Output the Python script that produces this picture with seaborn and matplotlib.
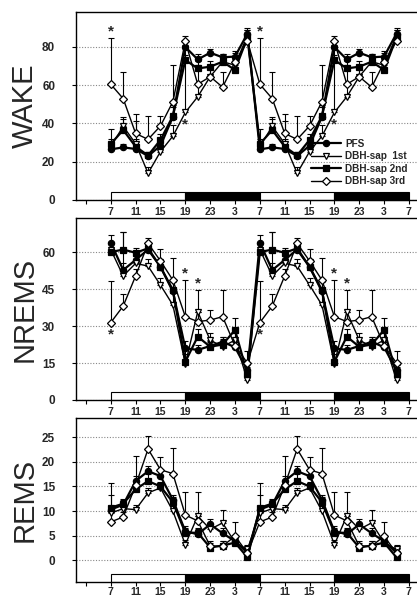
import numpy as np
import pandas as pd
import matplotlib
matplotlib.use("Agg")
import matplotlib.pyplot as plt
from matplotlib.patches import Rectangle
import seaborn as sns

# ---------------- data (one 24 h day, double plotted) ----------------
clock_labels = ["7", "9", "11", "13", "15", "17", "19", "21", "23", "1", "3", "5"]
hours = [0, 2, 4, 6, 8, 10, 12, 14, 16, 18, 20, 22]          # hours after 7:00
series_names = ["PFS", "DBH-sap  1st", "DBH-sap 2nd", "DBH-sap 3rd"]

wake_pfs = [26.5, 27.5, 26.7, 23.0, 28.4, 43.5, 80.0, 73.5, 77.0, 74.6, 75.0, 87.0]
wake_1st = [28.0, 38.5, 29.5, 14.0, 25.3, 33.4, 45.8, 54.0, 64.5, 72.3, 70.5, 86.0]
wake_2nd = [29.3, 36.6, 27.9, 23.3, 31.4, 43.9, 73.2, 68.8, 69.7, 72.3, 68.0, 85.0]
wake_3rd = [60.5, 53.0, 34.8, 31.7, 38.7, 51.4, 83.0, 60.5, 64.5, 59.0, 72.0, 83.0]
wake_pfs_err = [3, 2, 2, 2, 3, 5, 3, 3, 2, 2, 2, 3]
wake_1st_err = [4, 5, 12, 3, 4, 6, 30, 6, 4, 3, 3, 3]
wake_2nd_err = [8, 6, 4, 2, 3, 6, 8, 4, 3, 4, 5, 4]
wake_3rd_err = [24, 14, 10, 12, 5, 19, 3, 10, 4, 8, 6, 4]

nrem_pfs = [63.8, 52.7, 56.8, 61.0, 54.0, 44.0, 21.0, 20.3, 21.9, 23.6, 21.4, 12.0]
nrem_1st = [61.0, 50.3, 55.4, 54.3, 46.6, 38.5, 14.6, 35.8, 24.3, 21.6, 24.3, 8.0]
nrem_2nd = [60.0, 61.0, 59.7, 61.5, 54.0, 44.6, 15.5, 25.7, 21.6, 22.5, 28.4, 10.5]
nrem_3rd = [31.4, 38.1, 50.3, 63.5, 56.4, 48.6, 33.8, 31.8, 32.4, 33.8, 22.0, 15.0]
nrem_pfs_err = [3, 3, 2, 2, 3, 4, 3, 2, 2, 2, 2, 2]
nrem_1st_err = [3, 18, 3, 3, 3, 5, 4, 9, 3, 3, 3, 3]
nrem_2nd_err = [4, 7, 2, 2, 3, 4, 5, 3, 2, 3, 5, 3]
nrem_3rd_err = [17, 5, 3, 2, 5, 9, 15, 4, 4, 11, 6, 5]

rems_pfs = [10.3, 11.3, 16.1, 18.1, 17.1, 12.3, 5.9, 5.3, 7.3, 5.5, 3.9, 1.5]
rems_1st = [9.6, 10.5, 10.3, 13.7, 14.7, 10.0, 3.2, 9.0, 6.3, 7.6, 3.6, 2.2]
rems_2nd = [10.7, 11.5, 14.4, 16.1, 15.0, 11.8, 5.6, 5.6, 2.6, 3.0, 3.6, 0.6]
rems_3rd = [7.8, 8.8, 15.2, 22.6, 18.4, 17.6, 9.2, 8.0, 2.9, 2.9, 4.9, 1.5]
rems_pfs_err = [3, 1, 5, 1, 1, 1, 1, 1, 1, 1, 1, 1]
rems_1st_err = [1, 1, 1, 1, 1, 1, 1, 4.8, 1, 2.6, 1, 1]
rems_2nd_err = [5, 1, 1, 1.5, 1, 1, 1, 1, 1, 1, 1, 1]
rems_3rd_err = [2, 1, 2, 2.6, 2.5, 5.3, 4.6, 1, 1, 1, 2.8, 1]

# stars: (panel, series index, hour index, position)
stars = [("WAKE", 3, 0, "above"), ("WAKE", 1, 6, "below"),
         ("NREMS", 3, 0, "below"), ("NREMS", 3, 6, "above"), ("NREMS", 1, 7, "above")]

xtick_pos = [-4, 0, 4, 8, 12, 16, 20, 24, 28, 32, 36, 40, 44, 48]
xtick_labels = ["", "7", "11", "15", "19", "23", "3", "7", "11", "15", "19", "23", "3", "7"]

panels = {
    "WAKE": dict(vals=[wake_pfs, wake_1st, wake_2nd, wake_3rd],
                 errs=[wake_pfs_err, wake_1st_err, wake_2nd_err, wake_3rd_err],
                 ylim=(0, 98.3), yticks=[0, 20, 40, 60, 80]),
    "NREMS": dict(vals=[nrem_pfs, nrem_1st, nrem_2nd, nrem_3rd],
                  errs=[nrem_pfs_err, nrem_1st_err, nrem_2nd_err, nrem_3rd_err],
                  ylim=(0, 73.8), yticks=[0, 15, 30, 45, 60]),
    "REMS": dict(vals=[rems_pfs, rems_1st, rems_2nd, rems_3rd],
                 errs=[rems_pfs_err, rems_1st_err, rems_2nd_err, rems_3rd_err],
                 ylim=(-4.4, 28.9), yticks=[0, 5, 10, 15, 20, 25]),
}

# ---------------- styling ----------------
sns.set_style("white")
plt.rcParams["font.family"] = ["Liberation Sans", "DejaVu Sans"]

styles = [
    dict(marker="o", markerfacecolor="black", markersize=4.5, linewidth=1.6),
    dict(marker="v", markerfacecolor="white", markersize=5, linewidth=1.0),
    dict(marker="s", markerfacecolor="black", markersize=4.2, linewidth=1.6),
    dict(marker="D", markerfacecolor="white", markersize=4.0, linewidth=1.0),
]

fig = plt.figure(figsize=(4.17, 5.96), dpi=100)
W, H = 417, 596
boxes = {"WAKE": (12, 200), "NREMS": (218, 400), "REMS": (418, 582)}
left_px = 76

x_all = hours + [h + 24 for h in hours]

for name, (top, bot) in boxes.items():
    p = panels[name]
    ax = fig.add_axes([left_px / W, (H - bot) / H, (W - left_px) / W, (bot - top) / H])
    for i, (vals, errs) in enumerate(zip(p["vals"], p["errs"])):
        y_all = vals + vals
        e_all = errs + errs
        ax.errorbar(x_all, y_all, yerr=[np.zeros(len(e_all)), e_all], fmt="none",
                    ecolor="black", elinewidth=0.8, capsize=2, capthick=0.8, zorder=2)
        df = pd.DataFrame({"x": x_all, "y": y_all})
        st = styles[i]
        sns.lineplot(data=df, x="x", y="y", ax=ax, color="black",
                     marker=st["marker"], markerfacecolor=st["markerfacecolor"],
                     markeredgecolor="black", markeredgewidth=0.9,
                     markersize=st["markersize"], linewidth=st["linewidth"],
                     label=series_names[i] if name == "WAKE" else None,
                     legend=False, zorder=3 + i)
    # stars
    span = p["ylim"][1] - p["ylim"][0]
    for pn, si, hi, pos in stars:
        if pn != name:
            continue
        v = p["vals"][si][hi]
        e = p["errs"][si][hi]
        for off in (0, 24):
            if pos == "above":
                ax.text(hours[hi] + off, v + e + span * 0.035, "*", ha="center",
                        va="center", fontsize=11, fontweight="bold")
            else:
                ax.text(hours[hi] + off, v - span * 0.065, "*", ha="center",
                        va="center", fontsize=11, fontweight="bold")
    # light/dark bar
    tr = ax.get_xaxis_transform()
    bh = 8 / (bot - top)
    for start in (0, 12, 24, 36):
        fc = "white" if start % 24 == 0 else "black"
        ax.add_patch(Rectangle((start, 0), 12, bh, transform=tr, facecolor=fc,
                               edgecolor="black", linewidth=0.8, zorder=1, clip_on=False))
    ax.set_xlim(-5.6, 49.3)
    ax.set_ylim(*p["ylim"])
    ax.set_yticks(p["yticks"])
    ax.set_xticks(xtick_pos)
    ax.set_xticklabels(xtick_labels)
    ax.yaxis.grid(True, linestyle=(0, (1, 1.5)), color="#888888", linewidth=0.8)
    ax.xaxis.grid(False)
    ax.set_axisbelow(True)
    ax.tick_params(axis="x", direction="out", length=3, width=0.8, color="black",
                   labelsize=7.5, pad=2 if name != "REMS" else 0.8, bottom=True)
    ax.tick_params(axis="y", direction="out", length=3, width=0.8, color="black",
                   labelsize=8.5, pad=12, left=True)
    for lab in ax.get_xticklabels() + ax.get_yticklabels():
        lab.set_fontweight("bold")
    for s in ("left", "bottom", "top"):
        ax.spines[s].set_color("black")
        ax.spines[s].set_linewidth(1.0)
    ax.spines["right"].set_visible(False)
    ax.set_xlabel("")
    ax.set_ylabel(name, fontsize=21)
    ax.yaxis.set_label_coords(-0.11, 0.5)
    if name == "WAKE":
        ax.legend(loc="upper left", bbox_to_anchor=(0.69, 0.325), frameon=False,
                  prop={"size": 7.2, "weight": "bold"}, handlelength=3.0,
                  handletextpad=0.4, labelspacing=0.25, borderpad=0, borderaxespad=0)

fig.savefig("out.png", dpi=100)
